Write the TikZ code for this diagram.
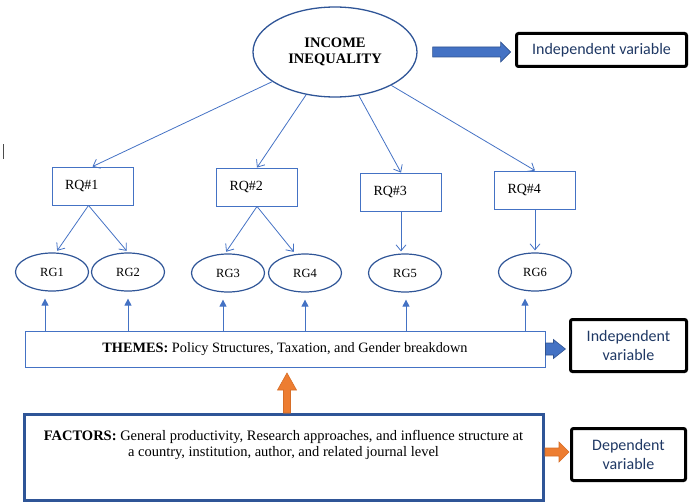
\documentclass[tikz,border=0pt]{standalone}
\usepackage{fontspec}
\setmainfont{Liberation Serif}
\newfontfamily\calib{Carlito}
\usetikzlibrary{shapes.geometric,arrows.meta,calc}
\definecolor{lineblue}{RGB}{68,114,196}
\definecolor{ellblue}{RGB}{47,85,151}
\definecolor{arredge}{RGB}{47,82,143}
\definecolor{navytext}{RGB}{31,56,100}
\definecolor{orangefill}{RGB}{237,125,49}
\definecolor{orangeedge}{RGB}{214,110,40}
\tikzset{
  pics/blockarr/.style args={#1/#2/#3/#4}{code={
    \path[pic actions] (0,-#2) -- ({#1-#4},-#2) -- ({#1-#4},-#3) -- (#1,0) -- ({#1-#4},#3) -- ({#1-#4},#2) -- (0,#2) -- cycle;
  }}
}
\begin{document}
\begin{tikzpicture}[x=1pt,y=-1pt,
  thinarr/.style={draw=lineblue, line width=0.8pt, -{Straight Barb[length=6pt,width=10pt]}},
  uparr/.style={draw=lineblue, line width=0.8pt, -{Triangle[length=7pt,width=7pt]}},
  bigell/.style={ellipse, draw=ellblue, line width=1.3pt, minimum width=164pt, minimum height=90pt, inner sep=0pt, align=center, font=\fontsize{14.5}{16}\selectfont\bfseries},
  rgell/.style={ellipse, draw=ellblue, line width=1.2pt, minimum width=73pt, minimum height=38pt, inner sep=0pt, font=\fontsize{12.5}{14}\selectfont},
  rqbox/.style={draw=lineblue, line width=0.9pt, text width=55pt, inner xsep=13pt, inner ysep=0pt, minimum height=38pt, align=left, font=\fontsize{14}{16}\selectfont},
  varbox/.style={draw=black, line width=3pt, rounded corners=2pt, align=center, text=navytext, inner sep=0pt, font=\calib\fontsize{16}{19}\selectfont},
  bluearr/.style={draw=arredge, fill=lineblue, line width=0.6pt},
  orangearr/.style={draw=orangeedge, fill=orangefill, line width=0.6pt}
]
\useasboundingbox (0,0) rectangle (693,503);

% stray mark
\draw[black!70, line width=1pt] (3,144) -- (3,159);

% top
\node[bigell] (inc) at (335,52) {INCOME\\INEQUALITY};
\pic[bluearr] at ([xshift=15pt]inc.east) {blockarr=78/5/10/10};
\node[varbox, minimum width=170pt, minimum height=33pt] (iv1) at (601.5,50) {Independent variable};

% research questions
\node[rqbox] (rq1) at (92.5,186) {RQ\#1};
\node[rqbox] (rq2) at (257,187) {RQ\#2};
\node[rqbox] (rq3) at (401,192) {RQ\#3};
\node[rqbox] (rq4) at (535,190) {RQ\#4};

\draw[thinarr] (inc) -- (rq1.north);
\draw[thinarr] (inc) -- (rq2.north);
\draw[thinarr] (inc) -- (rq3.north);
\draw[thinarr] (inc) -- (rq4.north);

% research goals
\node[rgell] (rg1) at (52,272) {RG1};
\node[rgell] (rg2) at (128,272) {RG2};
\node[rgell] (rg3) at (228,273) {RG3};
\node[rgell] (rg4) at (305,273) {RG4};
\node[rgell] (rg5) at (405,273) {RG5};
\node[rgell] (rg6) at (535,272) {RG6};

\draw[thinarr, shorten >=2pt] ([xshift=-4pt]rq1.south) -- ([xshift=4pt]rg1.north);
\draw[thinarr, shorten >=2pt] ([xshift=-4pt]rq1.south) -- (rg2.north);
\draw[thinarr, shorten >=2pt] (rq2.south) -- ([xshift=-3pt]rg3.north);
\draw[thinarr, shorten >=2pt] (rq2.south) -- ([xshift=-10pt]rg4.north);
\draw[thinarr, shorten >=2pt] (rq3.south) -- (rq3.south |- rg5.north);
\draw[thinarr, shorten >=2pt] (rq4.south) -- (rq4.south |- rg6.north);

% themes
\node[draw=lineblue, line width=0.9pt, minimum width=520pt, minimum height=36pt, inner sep=0pt, font=\fontsize{14.3}{16}\selectfont] (themes) at (285,349) {\textbf{THEMES:} Policy Structures, Taxation, and Gender breakdown};

\coordinate (t1) at ([xshift=-7pt,yshift=-7pt]rg1.south);
\coordinate (t2) at ([xshift=0pt,yshift=-7pt]rg2.south);
\coordinate (t3) at ([xshift=-5pt,yshift=-7pt]rg3.south);
\coordinate (t4) at ([xshift=0pt,yshift=-7pt]rg4.south);
\coordinate (t5) at ([xshift=1pt,yshift=-7pt]rg5.south);
\coordinate (t6) at ([xshift=-10pt,yshift=-7pt]rg6.south);
\foreach \t in {t1,t2,t3,t4,t5,t6}{
  \draw[uparr] (themes.north -| \t) -- (\t);
}

\pic[bluearr] at (themes.east) {blockarr=20/6/9.5/12};
\node[varbox, minimum width=116pt, minimum height=52pt] (iv2) at (628.5,345.5) {Independent\\variable};

% factors
\node[draw=ellblue, line width=3pt, minimum width=519pt, minimum height=86pt, inner sep=0pt] (factors) at (284,457.5) {};
\node[align=center, inner sep=0pt, font=\fontsize{14.5}{16}\selectfont] (ftxt) at (283.5,445) {\textbf{FACTORS:} General productivity, Research approaches, and influence structure at\\a country, institution, author, and related journal level};

\pic[orangearr, rotate=90] at ([xshift=3pt]factors.north) {blockarr=40/3.5/9.5/17};
\pic[orangearr] at ([yshift=5.5pt]factors.east) {blockarr=24/4/10/10};
\node[varbox, minimum width=114pt, minimum height=52pt] (dv) at (628.5,454.5) {Dependent\\variable};
\end{tikzpicture}
\end{document}
